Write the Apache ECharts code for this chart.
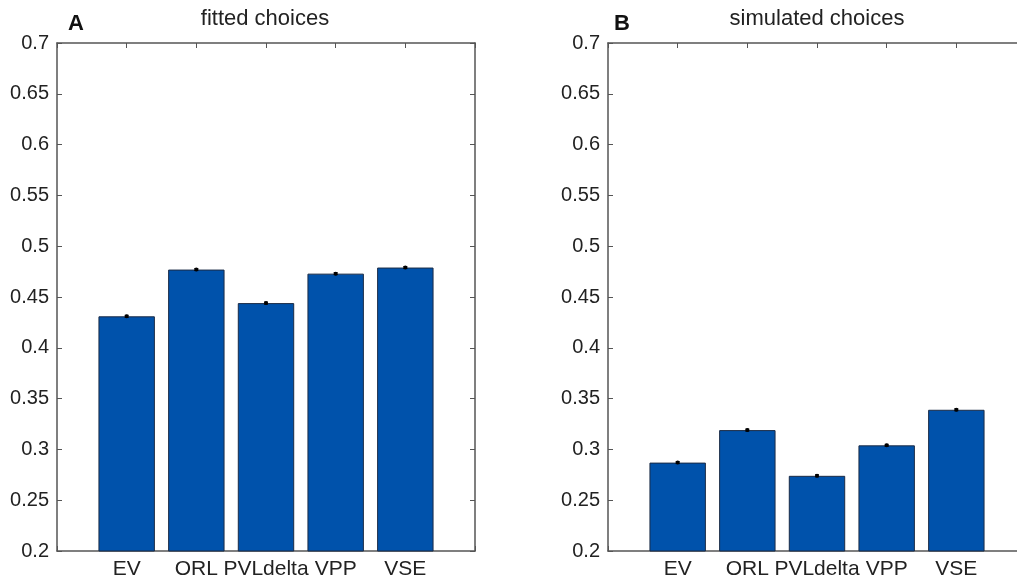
<!DOCTYPE html>
<html>
<head>
<meta charset="utf-8">
<script src="https://cdn.jsdelivr.net/npm/echarts@6/dist/echarts.min.js"></script>
<style>
html,body{margin:0;padding:0;background:#fff;}
#chart{width:1017px;height:583px;}
</style>
</head>
<body>
<div id="chart"></div>
<script>
const categories = ['EV', 'ORL', 'PVLdelta', 'VPP', 'VSE'];
const fittedValues = [0.431, 0.477, 0.444, 0.473, 0.479];
const fittedErrors = [0.001, 0.001, 0.001, 0.001, 0.001];
const simulatedValues = [0.287, 0.319, 0.274, 0.304, 0.339];
const simulatedErrors = [0.001, 0.001, 0.001, 0.001, 0.001];
const yMin = 0.2, yMax = 0.7, yStep = 0.05;
const panelTitles = ['fitted choices', 'simulated choices'];
const panelLetters = ['A', 'B'];

const FONT = 'Liberation Sans, Arial, sans-serif';
const axisColor = '#555555';
const barColor = '#0052ab';
const slots = [''].concat(categories).concat(['']);

const chart = echarts.init(document.getElementById('chart'));

function xAxisDef(grid, pos) {
  return {
    type: 'category', gridIndex: grid, position: pos, data: slots, boundaryGap: false,
    axisLine: { show: true, lineStyle: { color: axisColor, width: 1.5 } },
    axisTick: { show: true, inside: true, length: 5, interval: 0, lineStyle: { color: axisColor, width: 1 } },
    axisLabel: { show: pos === 'bottom', interval: 0, color: '#222', fontFamily: FONT, fontSize: 21, margin: 8 },
    splitLine: { show: false }
  };
}
function yAxisDef(grid, pos) {
  return {
    type: 'value', gridIndex: grid, position: pos, min: yMin, max: yMax, interval: yStep,
    axisLine: { show: true, lineStyle: { color: axisColor, width: 1.5 } },
    axisTick: { show: true, inside: true, length: 5, lineStyle: { color: axisColor, width: 1 } },
    axisLabel: { show: pos === 'left', color: '#222', fontFamily: FONT, fontSize: 20, margin: 8,
      formatter: v => String(+v.toFixed(2)) },
    splitLine: { show: false }
  };
}

function barData(vals) { return [null].concat(vals).concat([null]); }
function errData(vals, errs) { return vals.map((v, i) => [i + 1, v, errs[i]]); }

function errRender(params, api) {
  const x = api.value(0), y = api.value(1), e = api.value(2);
  const hi = api.coord([x, y + e]);
  const lo = api.coord([x, y - e]);
  const c = api.coord([x, y]);
  return {
    type: 'group',
    children: [
      { type: 'line', shape: { x1: hi[0], y1: hi[1], x2: lo[0], y2: lo[1] }, style: { stroke: '#000', lineWidth: 1.2 } },
      { type: 'line', shape: { x1: hi[0] - 2, y1: hi[1], x2: hi[0] + 2, y2: hi[1] }, style: { stroke: '#000', lineWidth: 1 } },
      { type: 'line', shape: { x1: lo[0] - 2, y1: lo[1], x2: lo[0] + 2, y2: lo[1] }, style: { stroke: '#000', lineWidth: 1 } },
      { type: 'circle', shape: { cx: c[0], cy: c[1], r: 2 }, style: { fill: '#000' } }
    ]
  };
}

const option = {
  backgroundColor: '#fff',
  animation: false,
  title: [
    { text: panelLetters[0], left: 68, top: 13, padding: 0, textStyle: { fontFamily: FONT, fontSize: 22, fontWeight: 'bold', color: '#111' } },
    { text: panelTitles[0], left: 265, top: 8, padding: 0, textAlign: 'center', textStyle: { fontFamily: FONT, fontSize: 22, fontWeight: 'normal', color: '#222' } },
    { text: panelLetters[1], left: 614, top: 13, padding: 0, textStyle: { fontFamily: FONT, fontSize: 22, fontWeight: 'bold', color: '#111' } },
    { text: panelTitles[1], left: 817, top: 8, padding: 0, textAlign: 'center', textStyle: { fontFamily: FONT, fontSize: 22, fontWeight: 'normal', color: '#222' } }
  ],
  grid: [
    { left: 57, top: 43, width: 418, height: 508, containLabel: false, outerBoundsMode: 'none' },
    { left: 608, top: 43, width: 418, height: 508, containLabel: false, outerBoundsMode: 'none' }
  ],
  xAxis: [xAxisDef(0, 'bottom'), xAxisDef(0, 'top'), xAxisDef(1, 'bottom'), xAxisDef(1, 'top')],
  yAxis: [yAxisDef(0, 'left'), yAxisDef(0, 'right'), yAxisDef(1, 'left'), yAxisDef(1, 'right')],
  series: [
    { type: 'bar', xAxisIndex: 0, yAxisIndex: 0, data: barData(fittedValues), barWidth: '81%',
      itemStyle: { color: barColor, borderColor: '#1b2b45', borderWidth: 1 }, z: 2 },
    { type: 'custom', xAxisIndex: 0, yAxisIndex: 0, data: errData(fittedValues, fittedErrors), renderItem: errRender, z: 5,
      encode: { x: 0, y: 1 } },
    { type: 'bar', xAxisIndex: 2, yAxisIndex: 2, data: barData(simulatedValues), barWidth: '81%',
      itemStyle: { color: barColor, borderColor: '#1b2b45', borderWidth: 1 }, z: 2 },
    { type: 'custom', xAxisIndex: 2, yAxisIndex: 2, data: errData(simulatedValues, simulatedErrors), renderItem: errRender, z: 5,
      encode: { x: 0, y: 1 } }
  ]
};
chart.setOption(option);
</script>
</body>
</html>
